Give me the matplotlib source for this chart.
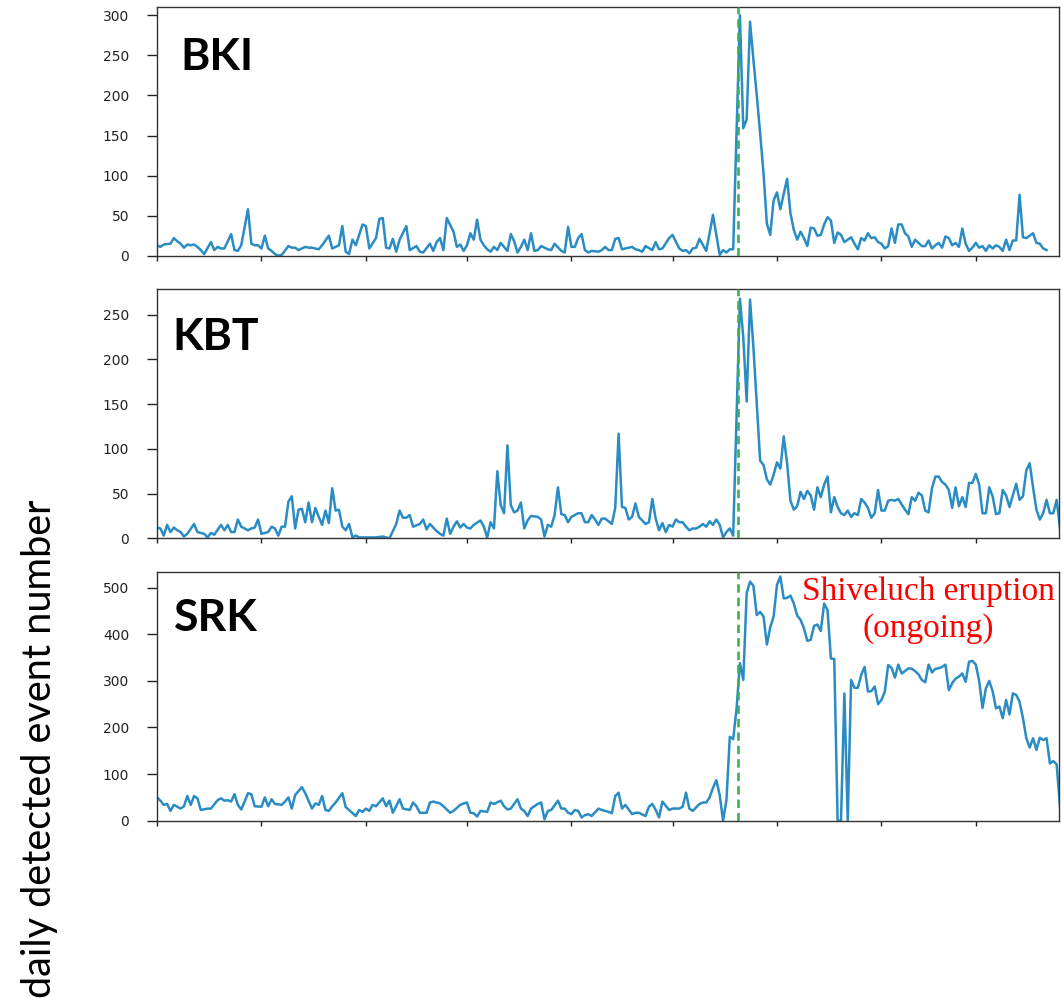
import matplotlib
matplotlib.use("Agg")
import matplotlib.pyplot as plt
import numpy as np

# ---------------- data (day index since start of record) ----------------
stations = ["BKI", "KBT", "SRK"]

bki_days = [0, 1, 2, 4, 5, 6, 7, 8, 9, 10, 11, 12, 13, 14, 16, 17, 18, 19, 20, 22, 23, 24, 25, 27, 28, 29, 30,
            31, 32, 33, 34, 35, 36, 37, 39, 40, 41, 42, 44, 45, 46, 48, 49, 51, 52, 54, 55, 56, 57, 58, 59, 61,
            62, 63, 65, 66, 67, 68, 69, 70, 71, 72, 74, 75, 77, 78, 79, 81, 82, 83, 84, 85, 86, 88, 89, 90, 91,
            92, 93, 94, 95, 96, 97, 98, 99, 100, 101, 102, 103, 104, 105, 106, 107, 108, 109, 110, 111, 112,
            113, 114, 116, 117, 118, 120, 121, 122, 123, 124, 125, 126, 127, 128, 129, 131, 132, 133, 134, 135,
            136, 137, 138, 140, 141, 142, 143, 144, 145, 147, 148, 149, 150, 152, 153, 155, 156, 157, 158, 159,
            160, 161, 163, 164, 165, 167, 168, 169, 170, 171,
            173, 174, 175, 176, 177, 178, 179, 180, 181, 182, 183, 184, 185, 187, 188, 189, 190, 191, 192, 193,
            194, 195, 196, 197, 198, 199, 200, 201, 202, 203, 204, 205, 206, 207, 208, 209, 210, 211, 212, 213,
            214, 215, 216, 217, 218, 219, 220, 221, 222, 223, 224, 225, 226, 227, 228, 229, 230, 231, 232, 233,
            234, 235, 236, 237, 238, 239, 240, 241, 242, 243, 244, 245, 246, 247, 248, 249, 250, 251, 252, 253,
            254, 255, 256, 257, 258, 260, 261, 262, 263, 264]
bki_counts = [13, 11, 14, 15, 22, 18, 15, 10, 14, 13, 14, 11, 7, 2, 17, 7, 11, 9, 9, 27, 7, 6, 13, 58, 15, 13, 13,
              9, 25, 9, 6, 2, 0, 1, 12, 10, 10, 7, 11, 10, 10, 8, 13, 25, 9, 13, 37, 5, 2, 20, 13, 39,
              37, 9, 22, 46, 47, 10, 9, 21, 5, 20, 37, 7, 12, 5, 4, 15, 6, 17, 22, 7, 47, 30, 11, 14, 6,
              13, 28, 20, 45, 20, 13, 8, 5, 11, 7, 16, 11, 6, 27, 18, 4, 11, 20, 7, 28, 6,
              7, 12, 8, 7, 15, 6, 4, 36, 11, 11, 22, 27, 7, 4, 6, 5, 7, 11, 7, 7,
              21, 22, 8, 10, 11, 8, 7, 5, 12, 7, 17, 8, 9, 22, 26, 9, 6, 7, 3, 9,
              10, 21, 6, 28, 51, 1, 7, 4, 8, 8,
              300, 159, 170, 292, 245, 200, 153, 103, 40, 26, 69, 79, 58, 96, 53, 32, 20, 30, 22, 12,
              35, 34, 25, 26, 39, 48, 44, 16, 29, 26, 17, 20, 23, 15, 8, 22, 19, 28, 22, 23,
              17, 15, 9, 12, 34, 16, 39, 39, 28, 24, 11, 20, 16, 12, 12, 19, 9, 13, 16, 10,
              24, 22, 13, 16, 11, 34, 15, 6, 10, 16, 10, 12, 6, 13, 9, 13, 11, 6, 20, 7,
              19, 19, 76, 23, 22, 28, 16, 15, 9, 7]

kbt_days = [0, 1, 2, 3, 4, 5, 6, 7, 8, 9, 11, 12, 13, 14, 15, 16, 17, 19, 20, 21, 22, 23, 24, 25, 27, 28, 29, 30,
            31, 33, 34, 35, 36, 37, 38, 39, 40, 41, 42, 43, 44, 45, 46, 47, 48, 49, 50, 51, 52, 53, 54, 55, 56,
            57, 58, 59, 60, 62, 64, 65, 67, 68, 69, 71, 72, 73, 74, 75, 76, 78, 79, 80, 81, 83, 84, 85, 86, 87,
            88, 89, 90, 91, 92, 93, 94, 96, 97, 98, 99, 100, 101, 102, 103, 104, 105, 106, 107, 108, 109, 110,
            111, 113, 114, 115, 116, 117, 118, 119, 120, 121, 122, 123, 125, 126, 127, 128, 129, 130, 131, 132,
            133, 134, 135, 136, 137, 138, 139, 140, 141, 142, 143, 145, 146, 147, 148, 149, 150, 151, 152, 153,
            154, 155, 156, 157, 158, 159, 160, 161, 162, 163, 164, 165, 166, 167, 168, 169, 170, 171,
            173, 174, 175, 176, 177, 178, 179, 180, 181, 182, 183, 184, 185, 186, 187, 188, 189, 190, 191, 192,
            193, 194, 195, 196, 197, 198, 199, 200, 201, 202, 203, 204, 205, 206, 207, 208, 209, 210, 211, 212,
            213, 214, 215, 216, 217, 218, 219, 220, 221, 222, 223, 224, 225, 226, 227, 228, 229, 230, 231, 232,
            233, 234, 235, 236, 237, 238, 239, 240, 241, 242, 243, 244, 245, 246, 247, 248, 249, 250, 251, 252,
            253, 254, 255, 256, 257, 258, 259, 260, 261, 262, 263, 264, 265, 266, 267, 268]
kbt_counts = [12, 11, 3, 15, 7, 12, 9, 7, 2, 5, 16, 7, 6, 5, 1, 6, 4, 15, 9, 15, 7, 7, 21, 13, 9, 11, 12, 21,
              5, 7, 13, 11, 3, 13, 13, 41, 47, 11, 32, 33, 18, 40, 18, 34, 24, 15, 31, 17, 56, 31, 32, 13, 9,
              16, 1, 3, 1, 1, 1, 1, 2, 1, 0, 16, 31, 23, 23, 26, 13, 16, 21, 10, 16, 8, 5, 3, 22, 5,
              13, 19, 12, 16, 12, 11, 15, 20, 13, 1, 18, 11, 75, 37, 28, 104, 37, 29, 31, 40, 11, 20,
              25, 24, 21, 2, 15, 13, 26, 57, 27, 26, 18, 24, 28, 28, 18, 18, 26, 21, 15, 22,
              22, 19, 16, 34, 117, 35, 34, 21, 24, 39, 24, 16, 18, 44, 22, 9, 17, 7, 15, 13,
              21, 18, 18, 13, 9, 11, 11, 13, 16, 13, 19, 15, 21, 15, 1, 7, 11, 3,
              268, 225, 153, 267, 214, 150, 87, 82, 66, 60, 71, 85, 78, 114, 84, 42, 32, 36, 52, 44,
              53, 48, 32, 57, 46, 60, 69, 29, 46, 35, 28, 26, 31, 24, 28, 26, 44, 40, 34, 23,
              28, 54, 31, 31, 42, 43, 42, 44, 38, 32, 27, 46, 42, 51, 48, 31, 29, 56, 69, 69,
              63, 60, 54, 34, 57, 36, 46, 35, 62, 62, 72, 60, 28, 28, 57, 47, 27, 28, 54, 48,
              35, 48, 61, 43, 47, 76, 84, 57, 32, 21, 28, 43, 28, 28, 43, 11]

srk_days = [0, 1, 2, 3, 4, 5, 7, 8, 9, 10, 11, 12, 13, 15, 16, 18, 19, 20, 21, 22, 23, 24, 25, 26, 27, 28, 29,
            31, 32, 33, 34, 35, 37, 38, 39, 40, 41, 43, 44, 46, 47, 48, 49, 50, 51, 52, 53, 55, 56, 57, 59, 60,
            61, 62, 63, 64, 65, 67, 68, 69, 70, 72, 73, 75, 76, 77, 78, 80, 81, 82, 84, 85, 87, 88, 90, 91, 92,
            93, 94, 95, 96, 98, 99, 100, 102, 103, 104, 105, 107, 108, 109, 110, 111, 113, 114, 115, 116, 117,
            119, 120, 121, 122, 123, 124, 125, 126, 127, 128, 129, 131, 132, 134, 135, 136, 137, 138, 139, 141,
            142, 143, 145, 146, 147, 148, 149, 150, 152, 153, 155, 156, 157, 158, 159, 161, 162, 163, 164, 165,
            166, 167, 168, 169, 170, 171, 172, 173, 174, 175, 176, 177, 178, 179, 180, 181, 182, 183, 184, 185,
            186, 187, 188, 189, 190, 191, 192, 193, 194, 195, 196, 197, 198, 199, 200, 201, 202, 203, 204, 205,
            206, 207, 208, 209, 210, 211, 212, 213, 214, 215, 216, 217, 218, 219, 220, 221, 222, 223, 224, 225,
            226, 227, 228, 229, 230, 231, 232, 233, 234, 235, 236, 237, 238, 239, 240, 241, 242, 243, 244, 245,
            246, 247, 248, 249, 250, 251, 252, 253, 254, 255, 256, 257, 258, 259, 260, 261, 262, 263, 264, 265,
            266, 267, 268]
srk_counts = [50, 43, 34, 36, 21, 34, 26, 31, 53, 34, 53, 48, 23, 26, 26, 44, 48, 43, 44, 41, 57, 34, 24, 41, 59,
              57, 31, 30, 50, 31, 46, 36, 34, 41, 50, 26, 55, 72, 59, 26, 37, 34, 53, 23, 21, 31, 39, 59, 29, 23,
              10, 23, 19, 26, 21, 34, 31, 48, 31, 43, 17, 46, 26, 23, 39, 31, 17, 17, 39, 41, 37, 31, 17, 21, 34,
              37, 39, 17, 16, 9, 21, 19, 39, 36, 43, 31, 24, 26, 46, 26, 21, 10, 26, 36, 39, 3, 21, 23,
              43, 26, 26, 17, 14, 23, 21, 7, 12, 14, 10, 26, 23, 19, 16, 53, 60, 26, 34, 14,
              17, 17, 10, 30, 36, 23, 7, 41, 23, 26, 26, 30, 60, 26, 21, 36, 39, 39, 50, 70,
              87, 55, 0, 44, 180, 175, 240, 338, 302, 488, 513, 504, 441, 448, 438, 378, 415, 438, 506, 524,
              477, 478, 483, 466, 440, 431, 413, 386, 388, 418, 421, 407, 466, 452, 348, 347, 0, 0, 273, 0,
              302, 285, 285, 313, 330, 277, 278, 288, 250, 259, 277, 334, 328, 307, 335, 316, 321, 327, 326, 321,
              314, 302, 297, 335, 318, 326, 327, 330, 335, 280, 295, 305, 309, 316, 298, 341, 343, 335, 300, 242,
              284, 300, 278, 241, 245, 220, 259, 228, 273, 270, 255, 220, 177, 157, 177, 152, 178, 173, 177, 123,
              128, 121, 30]

series_days = [bki_days, kbt_days, srk_days]
series_counts = [bki_counts, kbt_counts, srk_counts]

eruption_day = 172.3
month_tick_days = [0, 31, 62, 92, 123, 153, 184, 215, 243]
x_range = [0, 267.7]
y_ranges = [[0, 310], [0, 278.5], [0, 533]]
y_ticks = [[0, 50, 100, 150, 200, 250, 300],
           [0, 50, 100, 150, 200, 250],
           [0, 100, 200, 300, 400, 500]]
annotation_lines = ["Shiveluch eruption", "(ongoing)"]
y_label = "daily detected event number"

# ---------------- figure ----------------
W, H = 1063, 1001
fig = plt.figure(figsize=(W / 100, H / 100), dpi=100)

# axes boxes in pixels: (left, top, right, bottom)
boxes = [(157, 7.3, 1059, 255.7), (157, 289.3, 1059, 538.3), (157, 572.3, 1059, 820.7)]
name_pos = [(0.0255, 0.7476), (0.0166, 0.755), (0.0188, 0.7637)]

line_color = "#2a8cc2"
green = "#3db24a"

axes = []
for i, (l, t, r, b) in enumerate(boxes):
    ax = fig.add_axes([l / W, (H - b) / H, (r - l) / W, (b - t) / H])
    ax.plot(series_days[i], series_counts[i], color=line_color, lw=1.8, zorder=2,
            solid_joinstyle="round")
    ax.axvline(eruption_day, color=green, lw=1.9, ls=(0, (3.2, 1.9)), zorder=3)
    ax.set_xlim(*x_range)
    ax.set_ylim(*y_ranges[i])
    ax.set_yticks(y_ticks[i])
    ax.set_xticks(month_tick_days)
    ax.set_xticklabels([])
    ax.tick_params(axis="y", length=7, width=1.0, pad=13, labelsize=10,
                   colors="#222222", labelcolor="#222222")
    ax.tick_params(axis="x", length=3.5, width=1.0, colors="#222222")
    for s in ax.spines.values():
        s.set_linewidth(1.0)
        s.set_color("#333333")
    for lab in ax.get_yticklabels():
        lab.set_fontfamily("DejaVu Sans")
    ax.text(name_pos[i][0], name_pos[i][1], stations[i], transform=ax.transAxes,
            fontsize=32, fontweight="bold", family="Lato", ha="left", va="baseline",
            color="black")
    axes.append(ax)

# annotation in SRK panel
ax3 = axes[2]
ax3.text(0.855, 0.8885, annotation_lines[0], transform=ax3.transAxes, ha="center",
         va="baseline", color="red", fontsize=24, family="Liberation Serif")
ax3.text(0.855, 0.7396, annotation_lines[1], transform=ax3.transAxes, ha="center",
         va="baseline", color="red", fontsize=24, family="Liberation Serif")

fig.text(40 / W, (H - 749) / H, y_label, rotation=90, ha="center", va="center",
         fontsize=28.5, family="Lato", color="black")

fig.savefig("out.png", dpi=100)
